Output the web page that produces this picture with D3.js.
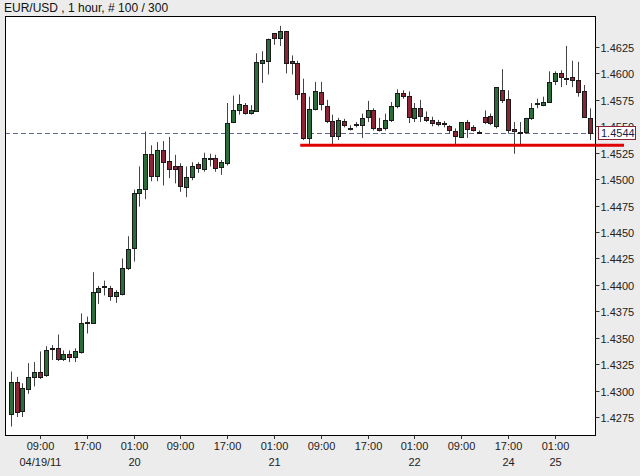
<!DOCTYPE html>
<html><head><meta charset="utf-8">
<script src="https://cdn.jsdelivr.net/npm/d3@7"></script>
<style>html,body{margin:0;padding:0;background:#ececec;}svg{display:block;}</style>
</head><body>
<script>
const title = "EUR/USD , 1 hour, # 100 / 300";
const opens  = [1.4278,1.4308,1.4280,1.4302,1.4313,1.4318,1.4314,1.4339,1.4340,1.4330,
1.4335,1.4331,1.4337,1.4364,1.4364,1.4393,1.4398,1.4397,1.4389,1.4391,
1.4416,1.4435,1.4487,1.4491,1.4524,1.4503,1.4528,1.4517,1.4512,1.4512,
1.4493,1.4502,1.4514,1.4510,1.4519,1.4520,1.4511,1.4515,1.4554,1.4565,
1.4570,1.4562,1.4565,1.4610,1.4612,1.4638,1.4633,1.4640,1.4612,1.4610,
1.4581,1.4539,1.4566,1.4582,1.4569,1.4555,1.4541,1.4555,1.4548,1.4551,
1.4551,1.4558,1.4565,1.4548,1.4548,1.4556,1.4569,1.4581,1.4579,1.4558,
1.4567,1.4559,1.4556,1.4554,1.4553,1.4550,1.4546,1.4540,1.4554,1.4549,
1.4545,1.4559,1.4560,1.4550,1.4584,1.4576,1.4547,1.4544,1.4545,1.4558,
1.4571,1.4570,1.4573,1.4592,1.4600,1.4596,1.4597,1.4594,1.4583,1.4558];
const highs  = [1.4318,1.4313,1.4307,1.4326,1.4327,1.4337,1.4342,1.4343,1.4353,1.4338,
1.4338,1.4340,1.4373,1.4370,1.4412,1.4399,1.4404,1.4399,1.4395,1.4425,
1.4446,1.4490,1.4512,1.4545,1.4532,1.4535,1.4536,1.4540,1.4523,1.4515,
1.4512,1.4516,1.4516,1.4525,1.4524,1.4523,1.4518,1.4572,1.4579,1.4580,
1.4572,1.4570,1.4619,1.4621,1.4633,1.4638,1.4645,1.4640,1.4617,1.4612,
1.4595,1.4578,1.4592,1.4592,1.4575,1.4561,1.4558,1.4557,1.4551,1.4554,
1.4562,1.4574,1.4567,1.4558,1.4562,1.4573,1.4585,1.4584,1.4583,1.4572,
1.4575,1.4564,1.4559,1.4556,1.4555,1.4551,1.4548,1.4554,1.4556,1.4551,
1.4546,1.4565,1.4562,1.4587,1.4604,1.4584,1.4554,1.4554,1.4558,1.4572,
1.4576,1.4578,1.4602,1.4602,1.4603,1.4626,1.4612,1.4611,1.4589,1.4567];
const lows   = [1.4266,1.4275,1.4275,1.4297,1.4304,1.4311,1.4313,1.4329,1.4328,1.4328,
1.4327,1.4327,1.4335,1.4354,1.4363,1.4382,1.4390,1.4385,1.4383,1.4390,
1.4414,1.4422,1.4474,1.4481,1.4498,1.4498,1.4494,1.4501,1.4496,1.4488,
1.4483,1.4499,1.4506,1.4507,1.4512,1.4507,1.4504,1.4513,1.4553,1.4561,
1.4561,1.4561,1.4564,1.4591,1.4599,1.4627,1.4626,1.4600,1.4599,1.4575,
1.4537,1.4532,1.4565,1.4565,1.4553,1.4531,1.4537,1.4549,1.4546,1.4549,
1.4539,1.4554,1.4546,1.4545,1.4546,1.4554,1.4567,1.4576,1.4553,1.4554,
1.4554,1.4554,1.4550,1.4550,1.4549,1.4543,1.4532,1.4539,1.4539,1.4545,
1.4543,1.4552,1.4551,1.4548,1.4572,1.4543,1.4524,1.4532,1.4543,1.4556,
1.4567,1.4569,1.4572,1.4589,1.4587,1.4589,1.4587,1.4578,1.4558,1.4537];
const closes = [1.4308,1.4280,1.4302,1.4313,1.4318,1.4313,1.4338,1.4340,1.4330,1.4335,
1.4332,1.4337,1.4364,1.4365,1.4393,1.4397,1.4399,1.4389,1.4393,1.4416,
1.4434,1.4487,1.4491,1.4524,1.4503,1.4528,1.4517,1.4509,1.4509,1.4493,
1.4502,1.4512,1.4510,1.4520,1.4520,1.4511,1.4516,1.4553,1.4565,1.4571,
1.4562,1.4565,1.4611,1.4613,1.4633,1.4633,1.4640,1.4610,1.4610,1.4581,
1.4538,1.4566,1.4583,1.4571,1.4555,1.4541,1.4556,1.4551,1.4548,1.4552,
1.4558,1.4565,1.4548,1.4546,1.4556,1.4569,1.4581,1.4578,1.4559,1.4567,
1.4559,1.4556,1.4553,1.4552,1.4552,1.4546,1.4541,1.4554,1.4547,1.4546,
1.4544,1.4554,1.4553,1.4587,1.4575,1.4547,1.4545,1.4545,1.4558,1.4567,
1.4572,1.4573,1.4592,1.4600,1.4596,1.4596,1.4594,1.4583,1.4558,1.4544];
const yTicks = [1.4275,1.4300,1.4325,1.4350,1.4375,1.4400,1.4425,1.4450,1.4475,1.4500,1.4525,1.4550,1.4575,1.4600,1.4625];
const xTickIndex = [5,13,21,29,37,45,53,61,69,77,85,93];
const timeLabels = ["09:00","17:00","01:00","09:00","17:00","01:00","09:00","17:00","01:00","09:00","17:00","01:00"];
const dayLabels  = ["04/19/11","","20","","","21","","","22","","24","25"];
const lastPrice = 1.4544;
const supportLevel = 1.4532;
const supportStart = 50;

(function () {
const W = 640, H = 476;
const pL = 5, pR = 595, pT = 16, pB = 435;
const svg = d3.select("body").append("svg").attr("width", W).attr("height", H)
  .style("font-family", "'Liberation Sans', Arial, sans-serif");
svg.append("rect").attr("width", W).attr("height", H).attr("fill", "#ececec");
svg.append("rect").attr("x", pL + 0.5).attr("y", pT + 0.5)
  .attr("width", pR - pL).attr("height", pB - pT)
  .attr("fill", "#ffffff").attr("stroke", "none");

const x = d3.scalePoint().domain(d3.range(opens.length)).range([10.7, 589.9]);
const y = d3.scaleLinear().domain([1.42580, 1.46543]).range([pB, pT]);

const data = opens.map((o, i) => ({i, o, h: highs[i], l: lows[i], c: closes[i]}));

svg.append("text").attr("x", 4).attr("y", 12).attr("font-size", 12).attr("fill", "#111").text(title);

svg.append("line").attr("x1", pL).attr("x2", pR)
  .attr("y1", Math.round(y(lastPrice)) + 0.5).attr("y2", Math.round(y(lastPrice)) + 0.5)
  .attr("stroke", "#5d6890").attr("stroke-dasharray", "5,3").attr("stroke-width", 1);

const g = svg.append("g");
const cx = d => Math.round(x(d.i));
g.selectAll("line.wick").data(data).join("line")
  .attr("x1", d => cx(d) + 0.5).attr("x2", d => cx(d) + 0.5)
  .attr("y1", d => y(d.h)).attr("y2", d => y(d.l))
  .attr("stroke", "#444").attr("stroke-width", 1);
g.selectAll("rect.body").data(data).join("rect")
  .attr("x", d => cx(d) - 1.5)
  .attr("width", 4)
  .attr("y", d => Math.round(y(Math.max(d.o, d.c))) + 0.5)
  .attr("height", d => Math.max(1, Math.round(Math.abs(y(d.o) - y(d.c)))))
  .attr("fill", d => d.c >= d.o ? "#2e6b3a" : "#8b2535")
  .attr("stroke", "#1a1a1a").attr("stroke-width", 1);

svg.append("line").attr("x1", x(supportStart) - 3).attr("x2", W - 16)
  .attr("y1", y(supportLevel)).attr("y2", y(supportLevel))
  .attr("stroke", "#e00000").attr("stroke-width", 3);

svg.append("rect").attr("x", pL + 0.5).attr("y", pT + 0.5)
  .attr("width", pR - pL).attr("height", pB - pT)
  .attr("fill", "none").attr("stroke", "#000").attr("stroke-width", 1);

const ya = svg.append("g").attr("transform", `translate(${pR + 0.5},0)`);
yTicks.forEach(t => {
  const yy = Math.round(y(t)) + 0.5;
  ya.append("line").attr("x1", 0).attr("x2", 4).attr("y1", yy).attr("y2", yy).attr("stroke", "#333");
  ya.append("text").attr("x", 5).attr("y", yy + 4).attr("font-size", 11).attr("fill", "#222").text(t.toFixed(4));
});
const ly = y(lastPrice);
svg.append("rect").attr("x", 598.5).attr("y", Math.round(ly) - 6.5).attr("width", 37).attr("height", 13)
  .attr("fill", "#ffffff").attr("stroke", "#8b2233").attr("stroke-width", 1);
svg.append("text").attr("x", 601).attr("y", Math.round(ly) + 4).attr("font-size", 11).attr("fill", "#1a1a4a").text(lastPrice.toFixed(4));

const xa = svg.append("g");
xTickIndex.forEach((idx, k) => {
  const xx = Math.round(x(idx)) + 0.5;
  xa.append("line").attr("x1", xx).attr("x2", xx).attr("y1", pB + 0.5).attr("y2", pB + 4).attr("stroke", "#333");
  xa.append("text").attr("x", xx).attr("y", 450).attr("text-anchor", "middle").attr("font-size", 11).attr("fill", "#222").text(timeLabels[k]);
  if (dayLabels[k]) xa.append("text").attr("x", xx).attr("y", 466).attr("text-anchor", "middle").attr("font-size", 11).attr("fill", "#222").text(dayLabels[k]);
});
})();
</script>
</body></html>
